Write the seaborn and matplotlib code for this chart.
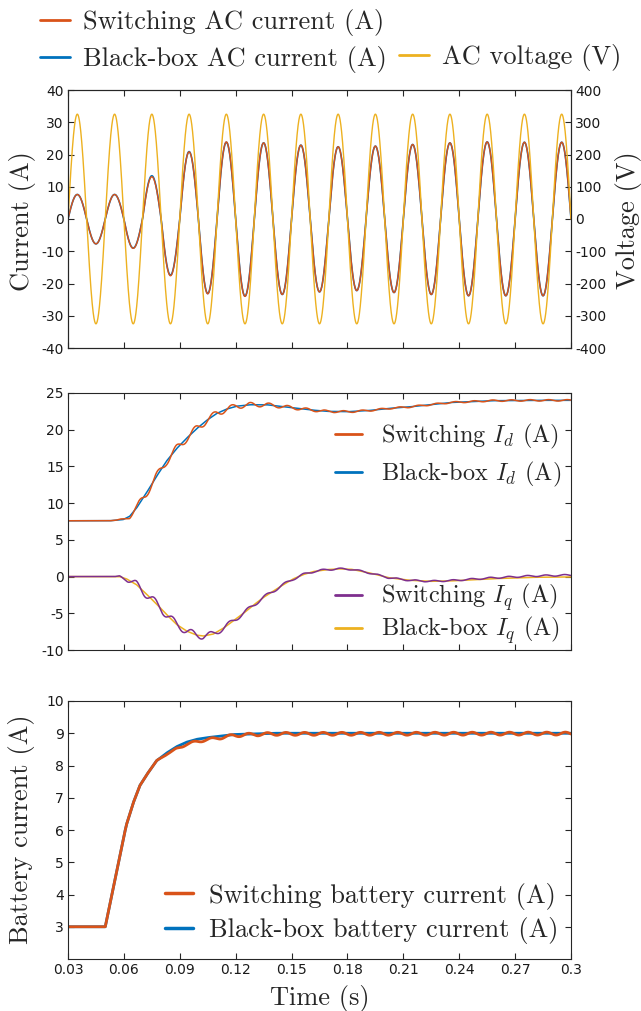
import numpy as np
import pandas as pd
import matplotlib
matplotlib.use("Agg")
import matplotlib.pyplot as plt
import seaborn as sns
from matplotlib.lines import Line2D

# ------------------------------------------------------------------ data
t_start, t_end = 0.03, 0.30
grid_freq_hz = 50          # AC fundamental (read from peak spacing)
ripple_freq_hz = 100       # ripple seen on dq / battery currents
v_peak = 325               # AC voltage peak (V)

# AC current peak value in every half cycle, 0.03 s -> 0.30 s
i_half_peaks_sw = [7.6, -7.7, 7.6, -9.1, 13.1, -17.6, 20.8, -23.2, 23.9, -24.0,
                   23.6, -23.4, 22.9, -22.6, 22.4, -22.2, 22.6, -22.8, 23.1, -23.4,
                   23.6, -23.8, 23.9, -23.8, 23.8, -23.8, 23.8]
i_half_peaks_bb = [7.6, -7.7, 7.6, -9.0, 13.4, -17.4, 20.9, -23.1, 23.8, -23.9,
                   23.6, -23.4, 22.9, -22.6, 22.4, -22.2, 22.6, -22.8, 23.1, -23.4,
                   23.6, -23.8, 23.9, -23.8, 23.8, -23.8, 23.8]

# Black-box Id (A)
id_t = [0.03, 0.05, 0.0523, 0.0595, 0.0631, 0.0667, 0.072, 0.0774, 0.0828, 0.0882,
        0.0935, 0.0989, 0.1043, 0.1097, 0.115, 0.1204, 0.1276, 0.1366, 0.1437, 0.1536,
        0.160, 0.169, 0.18, 0.191, 0.202, 0.213, 0.224, 0.235, 0.257, 0.279, 0.30]
id_bb = [7.6, 7.6, 7.6, 7.75, 8.2, 9.3, 11.35, 13.6, 15.7, 17.4,
         18.8, 20.1, 21.25, 22.2, 22.8, 23.2, 23.4, 23.4, 23.2, 22.9,
         22.7, 22.5, 22.45, 22.6, 22.9, 23.1, 23.4, 23.7, 23.95, 24.0, 24.0]

# Black-box Iq (A)
iq_t = [0.03, 0.0577, 0.0613, 0.0667, 0.072, 0.0774, 0.0828, 0.0882, 0.0935, 0.0989,
        0.1025, 0.1079, 0.1132, 0.1186, 0.124, 0.1294, 0.1347, 0.1401, 0.1455, 0.1509,
        0.1563, 0.1616, 0.169, 0.175, 0.182, 0.191, 0.202, 0.213, 0.224, 0.235,
        0.257, 0.279, 0.30]
iq_bb = [0.0, 0.0, -0.3, -1.08, -2.35, -3.7, -5.14, -6.5, -7.4, -7.97,
         -8.1, -7.84, -7.07, -6.04, -5.04, -3.92, -2.88, -1.99, -1.12, -0.31,
         0.27, 0.68, 0.95, 1.05, 1.0, 0.55, -0.15, -0.5, -0.65, -0.6,
         -0.3, -0.1, -0.05]

# Ripple amplitude of the switching dq currents (A)
rip_t = [0.03, 0.055, 0.062, 0.07, 0.10, 0.12, 0.14, 0.17, 0.20, 0.30]
id_rip_amp = [0.0, 0.0, 0.25, 0.55, 0.5, 0.35, 0.25, 0.15, 0.1, 0.1]
iq_rip_amp = [0.0, 0.0, 0.35, 0.6, 0.45, 0.3, 0.2, 0.12, 0.1, 0.1]
iq_off_t = [0.03, 0.22, 0.30]
iq_sw_offset = [0.0, 0.0, 0.25]

# Black-box battery current (A)
bat_t = [0.03, 0.05, 0.0553, 0.0596, 0.0613, 0.0649, 0.0685, 0.0721, 0.0774, 0.0828,
         0.0882, 0.0935, 0.0989, 0.1043, 0.1115, 0.1187, 0.1294, 0.14, 0.30]
bat_bb = [3.0, 3.0, 4.49, 5.7, 6.15, 6.82, 7.37, 7.70, 8.14, 8.38,
          8.58, 8.72, 8.81, 8.86, 8.91, 8.96, 8.98, 9.0, 9.0]
bat_off_t = [0.03, 0.078, 0.086, 0.10, 0.112, 0.125, 0.30]
bat_sw_offset = [0.0, 0.0, -0.06, -0.07, -0.05, -0.02, -0.01]
bat_rip_t = [0.03, 0.075, 0.09, 0.12, 0.30]
bat_rip_amp = [0.0, 0.0, 0.03, 0.045, 0.045]

x_ticks = [0.03, 0.06, 0.09, 0.12, 0.15, 0.18, 0.21, 0.24, 0.27, 0.30]
x_ticklabels = ["0.03", "0.06", "0.09", "0.12", "0.15", "0.18", "0.21", "0.24", "0.27", "0.3"]

# ------------------------------------------------------------------ colours / style
C_ORANGE = "#D95319"
C_BLUE = "#0072BD"
C_YELLOW = "#EDB120"
C_PURPLE = "#7E2F8E"
AX_COL = "#262626"

sns.set_theme(style="ticks")
plt.rcParams.update({
    "font.family": ["DejaVu Sans"],
    "mathtext.fontset": "cm",
    "axes.unicode_minus": False,
    "axes.edgecolor": AX_COL,
    "axes.linewidth": 0.8,
    "xtick.color": AX_COL,
    "ytick.color": AX_COL,
    "xtick.labelcolor": "#1a1a1a",
    "ytick.labelcolor": "#1a1a1a",
    "xtick.labelsize": 10,
    "ytick.labelsize": 10,
})
SERIF = "cmr10"
LBL = 19
LEG_MID = 17.5

# ------------------------------------------------------------------ series
t = np.linspace(t_start, t_end, 8101)
w = 2 * np.pi * grid_freq_hz
wr = 2 * np.pi * ripple_freq_hz
phase = np.sin(w * (t - t_start))
k = np.minimum(((t - t_start) * 2 * grid_freq_hz).astype(int), len(i_half_peaks_sw) - 1)
i_sw = np.abs(np.array(i_half_peaks_sw))[k] * phase
i_bb = np.abs(np.array(i_half_peaks_bb))[k] * phase
v_ac = v_peak * phase

id_bb_d = np.interp(t, id_t, id_bb)
id_sw_d = id_bb_d - np.interp(t, rip_t, id_rip_amp) * np.sin(wr * (t - 0.0705))
iq_bb_d = np.interp(t, iq_t, iq_bb)
iq_sw_d = (iq_bb_d + np.interp(t, iq_off_t, iq_sw_offset)
           + np.interp(t, rip_t, iq_rip_amp) * np.cos(wr * (t - 0.0665)))
bat_bb_d = np.interp(t, bat_t, bat_bb)
bat_sw_d = (bat_bb_d + np.interp(t, bat_off_t, bat_sw_offset)
            + np.interp(t, bat_rip_t, bat_rip_amp) * np.cos(wr * (t - 0.117)))

df = pd.DataFrame({"t": t, "i_sw": i_sw, "i_bb": i_bb, "v": v_ac,
                   "id_sw": id_sw_d, "id_bb": id_bb_d, "iq_sw": iq_sw_d, "iq_bb": iq_bb_d,
                   "bat_sw": bat_sw_d, "bat_bb": bat_bb_d})

# ------------------------------------------------------------------ figure
W, H = 641, 1011
fig = plt.figure(figsize=(W / 100, H / 100), dpi=100)
L, R = 68, 571
def box(top, bottom):
    return [L / W, 1 - bottom / H, (R - L) / W, (bottom - top) / H]
def fx(px):
    return px / W
def fy(py):
    return 1 - py / H

ax1 = fig.add_axes(box(90, 348))
ax2 = fig.add_axes(box(393, 650))
ax3 = fig.add_axes(box(701, 959))

def style(ax, right=True):
    ax.set_xlim(t_start, t_end)
    ax.set_xticks(x_ticks)
    ax.tick_params(direction="in", length=4, width=0.8, top=True, right=right, pad=3)
    for s in ax.spines.values():
        s.set_visible(True)
        s.set_color(AX_COL)
    ax.set_xlabel("")
    ax.set_ylabel("")

def leg(handles, labels, x_px, y_px, size, hl, htp, ls, **kw):
    return fig.legend(handles, labels, loc="center left",
                      bbox_to_anchor=(fx(x_px), fy(y_px)), bbox_transform=fig.transFigure,
                      frameon=False, prop={"family": SERIF, "size": size},
                      handlelength=hl, handletextpad=htp, labelspacing=ls,
                      borderpad=0, borderaxespad=0, **kw)

# --- top panel
sns.lineplot(data=df, x="t", y="i_bb", ax=ax1, color=C_BLUE, lw=1.2, estimator=None, sort=False, legend=False)
sns.lineplot(data=df, x="t", y="i_sw", ax=ax1, color=C_ORANGE, lw=1.0, estimator=None, sort=False, legend=False)
ax1v = ax1.twinx()
sns.lineplot(data=df, x="t", y="v", ax=ax1v, color=C_YELLOW, lw=1.0, estimator=None, sort=False, legend=False)
style(ax1, right=False)
ax1.set_ylim(-40, 40)
ax1.set_yticks(np.arange(-40, 41, 10))
ax1.set_xticklabels([])
ax1v.set_ylim(-400, 400)
ax1v.set_yticks(np.arange(-400, 401, 100))
ax1v.tick_params(direction="in", length=4, width=0.8, pad=3)
ax1v.set_ylabel("")
ax1v.set_xlabel("")
fig.text(fx(22), fy(221), "Current (A)", rotation=90, ha="center", va="center",
         fontname=SERIF, fontsize=LBL)
fig.text(fx(629), fy(220), "Voltage (V)", rotation=90, ha="center", va="center",
         fontname=SERIF, fontsize=LBL)

h_sw = Line2D([], [], color=C_ORANGE, lw=2)
h_bb = Line2D([], [], color=C_BLUE, lw=2)
h_v = Line2D([], [], color=C_YELLOW, lw=2)
h_q = Line2D([], [], color=C_PURPLE, lw=2)
h_blank = Line2D([], [], color="none")
leg([h_sw, h_bb, h_blank, h_v],
    ["Switching AC current (A)", "Black-box AC current (A)", "", "AC voltage (V)"],
    40, 41, LBL, 1.14, 0.49, 0.39, ncol=2, columnspacing=0.45)

# --- middle panel
sns.lineplot(data=df, x="t", y="id_bb", ax=ax2, color=C_BLUE, lw=1.1, estimator=None, sort=False, legend=False)
sns.lineplot(data=df, x="t", y="id_sw", ax=ax2, color=C_ORANGE, lw=1.1, estimator=None, sort=False, legend=False)
sns.lineplot(data=df, x="t", y="iq_bb", ax=ax2, color=C_YELLOW, lw=1.1, estimator=None, sort=False, legend=False)
sns.lineplot(data=df, x="t", y="iq_sw", ax=ax2, color=C_PURPLE, lw=1.1, estimator=None, sort=False, legend=False)
style(ax2)
ax2.set_ylim(-10, 25)
ax2.set_yticks(np.arange(-10, 26, 5))
ax2.set_xticklabels([])
leg([h_sw, h_bb], ["Switching $I_d$ (A)", "Black-box $I_d$ (A)"],
    335, 455.5, LEG_MID, 1.11, 0.78, 0.33)
leg([h_q, h_v], ["Switching $I_q$ (A)", "Black-box $I_q$ (A)"],
    335, 614, LEG_MID, 1.11, 0.78, 0.05)

# --- bottom panel
sns.lineplot(data=df, x="t", y="bat_bb", ax=ax3, color=C_BLUE, lw=2.0, estimator=None, sort=False, legend=False)
sns.lineplot(data=df, x="t", y="bat_sw", ax=ax3, color=C_ORANGE, lw=2.0, estimator=None, sort=False, legend=False)
style(ax3)
ax3.set_ylim(2, 10)
ax3.set_yticks(np.arange(3, 11, 1))
ax3.set_xticklabels(x_ticklabels)
fig.text(fx(22), fy(829), "Battery current (A)", rotation=90, ha="center", va="center",
         fontname=SERIF, fontsize=LBL)
fig.text(fx(320), fy(998), "Time (s)", ha="center", va="center",
         fontname=SERIF, fontsize=LBL)
h_sw2 = Line2D([], [], color=C_ORANGE, lw=2.5)
h_bb2 = Line2D([], [], color=C_BLUE, lw=2.5)
leg([h_sw2, h_bb2], ["Switching battery current (A)", "Black-box battery current (A)"],
    165, 913.5, LBL, 1.06, 0.6, 0.29)

fig.savefig("out.png", dpi=100)
